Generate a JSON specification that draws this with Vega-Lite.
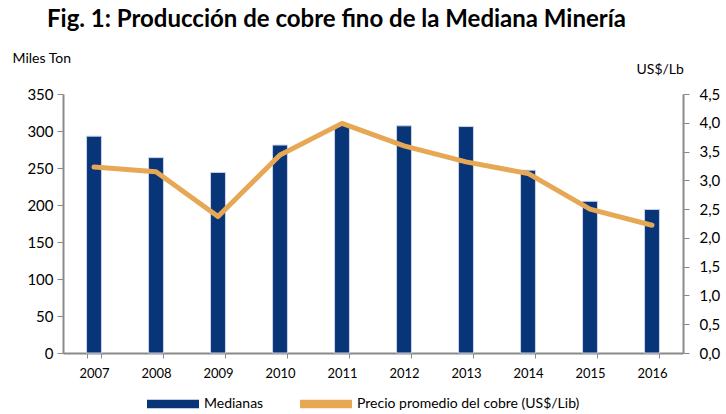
{
  "$schema": "https://vega.github.io/schema/vega-lite/v6.json",
  "autosize": "none",
  "width": 620,
  "height": 259,
  "padding": {"left": 63, "top": 94, "right": 43, "bottom": 61},
  "background": "white",
  "config": {
    "view": {"stroke": null},
    "font": "Lato",
    "axis": {"labelFont": "Lato", "titleFont": "Lato", "labelColor": "#000", "titleColor": "#000", "domainColor": "#8a8a8a", "tickColor": "#8a8a8a", "grid": false}
  },
  "title": {
    "text": "Fig. 1: Producción de cobre fino de la Mediana Minería",
    "font": "Lato",
    "fontSize": 24,
    "fontWeight": "bold",
    "color": "#000",
    "anchor": "start",
    "frame": "group",
    "dx": -16,
    "dy": -19,
    "offset": 0
  },
  "data": {
    "values": [
      {"year": "2007", "ton": 293, "precio": 3.23},
      {"year": "2008", "ton": 264, "precio": 3.15},
      {"year": "2009", "ton": 244, "precio": 2.37},
      {"year": "2010", "ton": 281, "precio": 3.44},
      {"year": "2011", "ton": 308, "precio": 3.99},
      {"year": "2012", "ton": 307, "precio": 3.60},
      {"year": "2013", "ton": 306, "precio": 3.32},
      {"year": "2014", "ton": 247, "precio": 3.12},
      {"year": "2015", "ton": 205, "precio": 2.50},
      {"year": "2016", "ton": 194, "precio": 2.22}
    ]
  },
  "encoding": {
    "x": {
      "field": "year",
      "type": "ordinal",
      "scale": {"paddingInner": 0.76, "paddingOuter": 0.38},
      "axis": {"title": null, "labelAngle": 0, "labelFontSize": 13, "labelPadding": 9, "tickBand": "extent", "tickSize": 5, "domainWidth": 2}
    }
  },
  "layer": [
    {
      "mark": {"type": "bar", "stroke": "#c9d3e6", "strokeWidth": 1},
      "encoding": {
        "y": {
          "field": "ton",
          "type": "quantitative",
          "scale": {"domain": [0, 350]},
          "axis": {
            "title": "Miles Ton",
            "titleAngle": 0,
            "titleAlign": "left",
            "titleBaseline": "alphabetic",
            "titleX": -51,
            "titleY": -32,
            "titleFontSize": 14,
            "titleFontWeight": "normal",
            "values": [0, 50, 100, 150, 200, 250, 300, 350],
            "labelFontSize": 15,
            "labelPadding": 4,
            "tickSize": 6,
            "domainWidth": 2
          }
        },
        "color": {
          "datum": "Medianas",
          "type": "nominal",
          "scale": {"domain": ["Medianas", "Precio promedio del cobre (US$/Lib)"], "range": ["#083478", "#E6A855"]},
          "legend": {
            "title": null,
            "orient": "none",
            "direction": "horizontal",
            "legendX": 84,
            "legendY": 284,
            "symbolType": "M-1,-0.16H1V0.16H-1Z",
            "symbolSize": 2704,
            "symbolStrokeWidth": 0,
            "labelFontSize": 14,
            "labelFont": "Lato",
            "labelColor": "#000",
            "labelLimit": 400,
            "columnPadding": 36,
            "labelOffset": 5
          }
        }
      }
    },
    {
      "mark": {"type": "line", "strokeWidth": 5, "strokeCap": "round", "strokeJoin": "round"},
      "encoding": {
        "y": {
          "field": "precio",
          "type": "quantitative",
          "scale": {"domain": [0, 4.5]},
          "axis": {
            "orient": "right",
            "title": "US$/Lb",
            "titleAngle": 0,
            "titleAlign": "left",
            "titleBaseline": "alphabetic",
            "titleX": -47,
            "titleY": -21,
            "titleFontSize": 14,
            "titleFontWeight": "normal",
            "values": [0, 0.5, 1, 1.5, 2, 2.5, 3, 3.5, 4, 4.5],
            "format": ".1f",
            "labelExpr": "replace(datum.label, '.', ',')",
            "labelFontSize": 15,
            "labelPadding": 10,
            "tickSize": 6,
            "domainWidth": 2
          }
        },
        "color": {"datum": "Precio promedio del cobre (US$/Lib)", "type": "nominal"}
      }
    }
  ],
  "resolve": {"scale": {"y": "independent"}}
}
